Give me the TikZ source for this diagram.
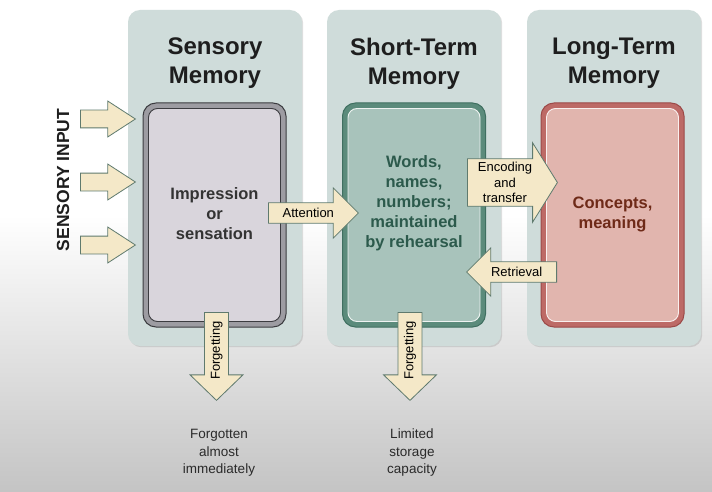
\documentclass[tikz,border=0pt]{standalone}
\usepackage{fontspec}
\setmainfont{Liberation Sans}
\usetikzlibrary{shapes.arrows,shadows,positioning}

\definecolor{panelfill}{HTML}{CFDCDA}
\definecolor{bgbottom}{HTML}{C4C4C4}
\definecolor{titletext}{HTML}{1E1E1E}
\definecolor{notetext}{HTML}{2A2A2A}
\definecolor{arrowfill}{HTML}{F4E8C8}
\definecolor{arrowline}{HTML}{5F7A6E}
\definecolor{sensband}{HTML}{9D9CA2}
\definecolor{sensline}{HTML}{3C3C40}
\definecolor{senscore}{HTML}{D9D5DC}
\definecolor{senstext}{HTML}{333333}
\definecolor{stmband}{HTML}{5B8B7B}
\definecolor{stmline}{HTML}{3F6F60}
\definecolor{stmcore}{HTML}{A8C3BB}
\definecolor{stmtext}{HTML}{2C5A4C}
\definecolor{ltmband}{HTML}{BD6A66}
\definecolor{ltmline}{HTML}{9C4A48}
\definecolor{ltmcore}{HTML}{E1B5AE}
\definecolor{ltmtext}{HTML}{6E2A18}

\begin{document}
\begin{tikzpicture}[
    x=1pt, y=-1pt,
    panel/.style={rectangle, rounded corners=12pt, fill=panelfill, minimum width=174pt, minimum height=336pt, inner sep=0pt, drop shadow={shadow xshift=1.2pt, shadow yshift=-1.2pt, opacity=0.25}},
    title/.style={align=center, font=\fontsize{24}{29}\selectfont\bfseries, text=titletext},
    memband/.style={rectangle, rounded corners=13pt, line width=1pt, minimum width=143pt, minimum height=224pt, inner sep=0pt},
    memcore/.style={rectangle, rounded corners=9pt, line width=0.9pt, minimum width=132pt, minimum height=213pt, inner sep=0pt},
    memtext/.style={align=center, font=\fontsize{16.5}{20}\selectfont\bfseries},
    blockarr/.style={single arrow, draw=arrowline, fill=arrowfill, line width=0.8pt, font=\fontsize{13}{15.5}\selectfont, align=center, inner xsep=2pt, anchor=tail},
    note/.style={align=center, font=\fontsize{13.5}{17.5}\selectfont, text=notetext}
]
    % background
    \fill [white] (0,0) rectangle (712,492);
    \shade [top color=white, bottom color=bgbottom] (0,215) rectangle (712,492);
    \useasboundingbox (0,0) rectangle (712,492);

    % panels
    \node [panel] (sensPanel) at (215,178) {};
    \node [panel] (stmPanel) at (414,178) {};
    \node [panel] (ltmPanel) at (614,178) {};

    \node [title] (sensTitle) at (215,63.5) {Sensory\\Memory};
    \node [title] (stmTitle) at (414,63.5) {Short-Term\\Memory};
    \node [title] (ltmTitle) at (614,63.5) {Long-Term\\Memory};

    % memory boxes
    \node [memband, fill=sensband, draw=sensline] (sensBand) at (214.5,215) {};
    \node [memcore, fill=senscore, draw=sensline] (sensCore) at (sensBand.center) {};
    \node [memband, fill=stmband, draw=stmline] (stmBand) at (414,215) {};
    \node [memcore, fill=stmcore, draw=white!80!stmcore] (stmCore) at (stmBand.center) {};
    \node [memband, fill=ltmband, draw=ltmline] (ltmBand) at (612.5,215) {};
    \node [memcore, fill=ltmcore, draw=white!80!ltmcore] (ltmCore) at (ltmBand.center) {};

    \node [memtext, text=senstext] (sensText) at (214.5,214) {Impression\\or\\sensation};
    \node [memtext, text=stmtext] (stmText) at (414,203) {Words,\\names,\\numbers;\\maintained\\by rehearsal};
    \node [memtext, text=ltmtext] (ltmText) at (612.5,214) {Concepts,\\meaning};

    % sensory input
    \node [rotate=90, font=\fontsize{17.5}{20}\selectfont\bfseries, text=titletext] (inLabel) at (63,180) {SENSORY INPUT};
    \foreach \y/\n in {119/inA, 182/inB, 245/inC}
        \node [blockarr, inner ysep=8.5pt, minimum height=55pt, single arrow head extend=9pt, single arrow tip angle=66] (\n) at (80,\y) {};

    % transfers between stores
    \node [blockarr, inner ysep=5pt, minimum height=90pt, single arrow head extend=15pt, single arrow tip angle=90] (attn) at (268,213) {Attention};
    \node [blockarr, inner ysep=3pt, minimum height=90pt, single arrow head extend=16pt, single arrow tip angle=116] (encode) at (467,182.5) {Encoding\\and\\transfer};
    \node [blockarr, inner ysep=5pt, minimum height=90pt, single arrow head extend=14pt, single arrow tip angle=90, shape border rotate=180] (retrieve) at (557,272) {Retrieval};

    % forgetting
    \node [blockarr, rotate=90, shape border rotate=180, inner ysep=5.5pt, minimum height=88pt, single arrow head extend=14.5pt, single arrow tip angle=92] (sensForget) at (216.5,312) {Forgetting};
    \node [blockarr, rotate=90, shape border rotate=180, inner ysep=5.5pt, minimum height=88pt, single arrow head extend=14.5pt, single arrow tip angle=92] (stmForget) at (410,312) {Forgetting};

    \node [note] (sensNote) at (219,453) {Forgotten\\almost\\immediately};
    \node [note] (stmNote) at (412,453) {Limited\\storage\\capacity};
\end{tikzpicture}
\end{document}
